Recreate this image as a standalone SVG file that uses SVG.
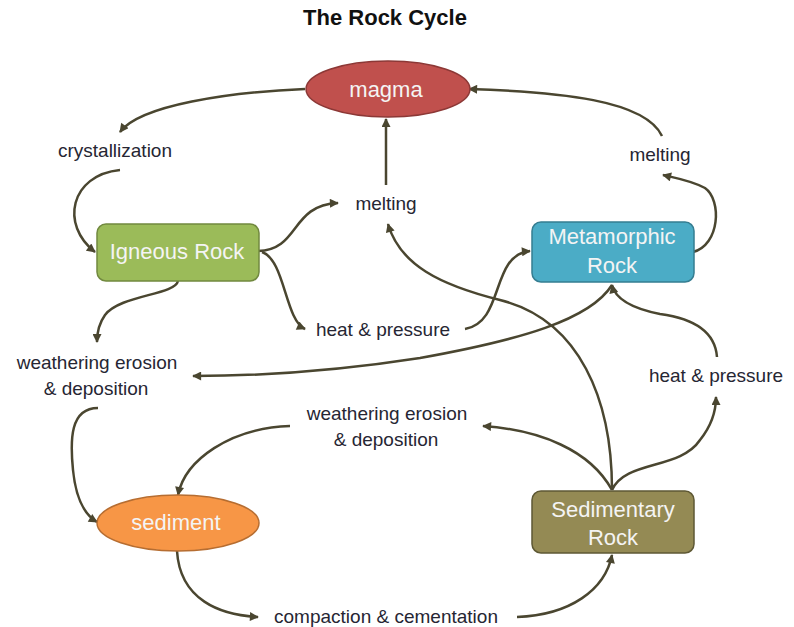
<svg xmlns="http://www.w3.org/2000/svg" width="794" height="627" viewBox="0 0 794 627">
<defs>
<marker id="ah" viewBox="0 0 10 10" refX="9" refY="5" markerWidth="10" markerHeight="9" markerUnits="userSpaceOnUse" orient="auto">
<path d="M0,0 L10,5 L0,10 z" fill="#4A4630"/>
</marker>
<style>
.c{fill:none;stroke:#4A4630;stroke-width:2.5;marker-end:url(#ah)}
.n{font-family:"Liberation Sans",Arial,sans-serif;font-size:22px;fill:#F4F4F4;text-anchor:middle}
.l{font-family:"Liberation Sans",Arial,sans-serif;font-size:19px;fill:#262633;text-anchor:middle}
.t{font-family:"Liberation Sans",Arial,sans-serif;font-size:22px;font-weight:bold;fill:#111;text-anchor:middle}
</style>
</defs>
<rect width="794" height="627" fill="#fff"/>
<text class="t" x="385" y="25">The Rock Cycle</text>

<g id="connectors">
<path class="c" d="M305,89 C230,92 140,105 120,132"/>
<path class="c" d="M120,170 C70,175 60,225 95,252"/>
<path class="c" d="M258,251 C300,250 290,205 338,203"/>
<path class="c" d="M262,252 C285,260 285,320 305,329"/>
<path class="c" d="M386,185 L386,119"/>
<path class="c" d="M612,490 C612,400 580,320 500,300 C440,285 400,265 388,224"/>
<path class="c" d="M465,329 C505,322 490,255 530,251"/>
<path class="c" d="M612,285 C590,320 520,340 420,358 C330,372 260,376 193,376"/>
<path class="c" d="M717,357 C715,330 690,318 660,314 C630,308 615,298 612,285"/>
<path class="c" d="M612,490 C625,460 680,470 700,440 C712,425 716,410 716,397"/>
<path class="c" d="M612,490 C590,450 540,430 483,426"/>
<path class="c" d="M290,426 C230,428 185,460 178,495"/>
<path class="c" d="M98,408 C70,408 70,440 73,470 C76,500 85,515 97,522"/>
<path class="c" d="M178,281 C175,295 120,295 105,315 C100,322 97,332 97,342"/>
<path class="c" d="M177,551 C180,600 220,615 258,617"/>
<path class="c" d="M517,617 C570,615 605,590 612,555"/>
<path class="c" d="M693,252 C720,245 722,200 705,188 C690,180 675,178 663,175"/>
<path class="c" d="M662,136 C645,100 560,92 469,89"/>
</g>

<g id="magma">
<ellipse cx="388" cy="89" rx="82" ry="28" fill="#C0504D" stroke="#8C3836" stroke-width="1.5"/>
<text class="n" x="386" y="97">magma</text>
</g>
<g id="igneous">
<rect x="97" y="224" width="162" height="57" rx="9" fill="#9BBB59" stroke="#71893F" stroke-width="1.5"/>
<text class="n" x="177" y="259">Igneous Rock</text>
</g>
<g id="metamorphic">
<rect x="532" y="222" width="162" height="60" rx="9" fill="#4BACC6" stroke="#357D91" stroke-width="1.5"/>
<text class="n" x="612" y="244">Metamorphic</text>
<text class="n" x="612" y="273">Rock</text>
</g>
<g id="sediment">
<ellipse cx="178" cy="523" rx="81" ry="28" fill="#F79646" stroke="#B66D31" stroke-width="1.5"/>
<text class="n" x="176" y="530">sediment</text>
</g>
<g id="sedimentary">
<rect x="532" y="491" width="162" height="62" rx="9" fill="#948A54" stroke="#5E5834" stroke-width="1.5"/>
<text class="n" x="613" y="517">Sedimentary</text>
<text class="n" x="613" y="545">Rock</text>
</g>

<g id="labels">
<text class="l" x="115" y="157">crystallization</text>
<text class="l" x="386" y="210">melting</text>
<text class="l" x="660" y="161">melting</text>
<text class="l" x="383" y="336">heat &amp; pressure</text>
<text class="l" x="97" y="369">weathering erosion</text>
<text class="l" x="96" y="395">&amp; deposition</text>
<text class="l" x="716" y="382">heat &amp; pressure</text>
<text class="l" x="387" y="420">weathering erosion</text>
<text class="l" x="386" y="446">&amp; deposition</text>
<text class="l" x="386" y="623">compaction &amp; cementation</text>
</g>
</svg>
